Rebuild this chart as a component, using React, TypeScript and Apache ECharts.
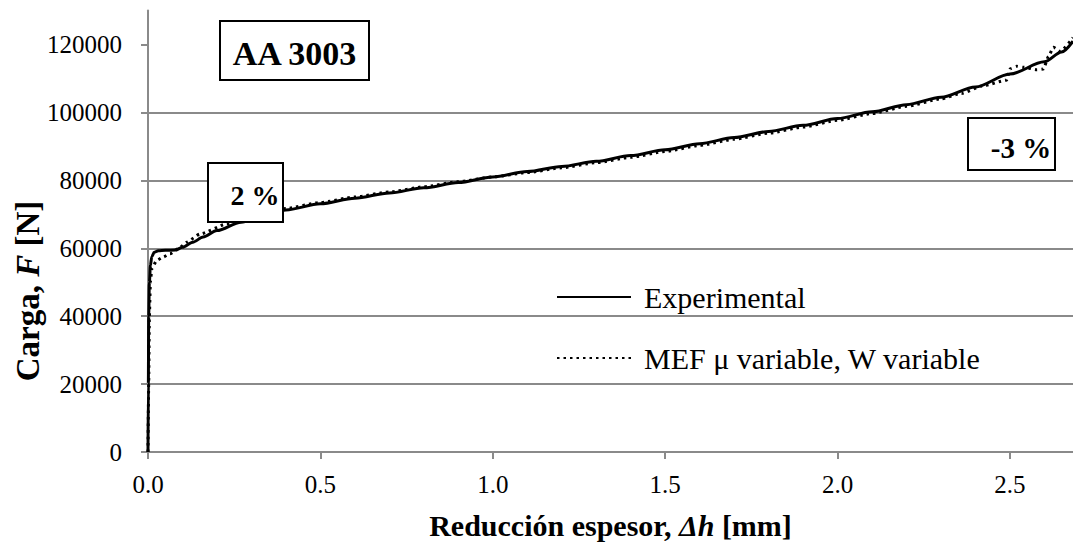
import React, { useEffect, useRef } from "react";
import * as echarts from "echarts";

// Δh [mm] and F [N]
const expX = [0, 0.001, 0.002, 0.004, 0.007, 0.011, 0.018, 0.03, 0.05, 0.08, 0.1, 0.13, 0.16, 0.2, 0.27, 0.33, 0.4, 0.5, 0.6, 0.7, 0.8, 0.9, 1.0, 1.1, 1.2, 1.3, 1.4, 1.5, 1.6, 1.7, 1.8, 1.9, 2.0, 2.1, 2.2, 2.3, 2.4, 2.5, 2.6, 2.65, 2.683];
const expY = [0, 20000, 40000, 50000, 55000, 57500, 58800, 59300, 59400, 59500, 60300, 61800, 63300, 65200, 67700, 69500, 71300, 73100, 74750, 76300, 77800, 79350, 81000, 82600, 84100, 85600, 87300, 89000, 90800, 92600, 94400, 96200, 98200, 100200, 102300, 104500, 107500, 111300, 114900, 117800, 121000];

const mefX = [0, 0.002, 0.004, 0.007, 0.011, 0.025, 0.044, 0.064, 0.093, 0.112, 0.151, 0.228, 0.3, 0.4, 0.5, 0.6, 0.7, 0.8, 0.9, 1.0, 1.1, 1.2, 1.3, 1.4, 1.5, 1.6, 1.7, 1.8, 1.9, 2.0, 2.1, 2.2, 2.3, 2.36, 2.42, 2.49, 2.501, 2.52, 2.54, 2.578, 2.597, 2.612, 2.626, 2.646, 2.683];
const mefY = [0, 20000, 40000, 50000, 54000, 56400, 57400, 58400, 60300, 61800, 64200, 67150, 69300, 71700, 73500, 75100, 76600, 78100, 79600, 81000, 82300, 83700, 85200, 86800, 88500, 90300, 92100, 93900, 95700, 97700, 99700, 101800, 104000, 105600, 107800, 109500, 112900, 113600, 113300, 112600, 112800, 116500, 119200, 118000, 122000];

const xTicks = [0, 0.5, 1.0, 1.5, 2.0, 2.5];
const yTicks = [0, 20000, 40000, 60000, 80000, 100000, 120000];

const seriesNames = ["Experimental", "MEF \u03bc variable, W variable"];
const xTitle = "Reducción espesor, ";
const yTitle = "Carga, ";
const boxLabels = ["AA 3003", "2 %", "-3 %"];

const FONT = "Liberation Serif";
const GRID_COLOR = "#8a8a8a";

const serif = (size: number, bold = false, italic = false) => ({
  fontFamily: FONT,
  fontSize: size,
  fontWeight: bold ? "bold" : "normal",
  fontStyle: italic ? "italic" : "normal",
  color: "#000",
  fill: "#000",
});

export default function App() {
  const ref = useRef<HTMLDivElement>(null);
  useEffect(() => {
    if (!ref.current) return;
    const chart = echarts.init(ref.current, undefined, { renderer: "svg" });
    const exp = expX.map((x, i) => [x, expY[i]]);
    const mef = mefX.map((x, i) => [x, mefY[i]]);
    const boxText = (x: number, y: number, label: string, size: number) => ({
      type: "text", z: 101, x, y,
      style: { text: `{a|${label}}`, align: "center", verticalAlign: "middle", rich: { a: serif(size, true) } },
    });
    chart.setOption({
      animation: false,
      backgroundColor: "#ffffff",
      textStyle: { fontFamily: FONT },
      grid: { left: 148, right: 0, top: 10.6, bottom: 91, containLabel: false },
      xAxis: {
        type: "value",
        min: 0,
        max: 2.683,
        interval: 0.5,
        name: `{b|${xTitle}}{i|\u0394h}{b| [mm]}`,
        nameLocation: "middle",
        nameGap: 58,
        nameTextStyle: { rich: { b: serif(30, true), i: serif(30, true, true) } },
        axisLine: { show: true, onZero: false, lineStyle: { color: GRID_COLOR, width: 2 } },
        axisTick: { show: true, length: 7, customValues: xTicks, lineStyle: { color: GRID_COLOR, width: 2 } },
        axisLabel: {
          customValues: xTicks,
          formatter: (v: number) => `{a|${v.toFixed(1)}}`,
          rich: { a: serif(25) },
          margin: 20,
        },
        splitLine: { show: false },
      },
      yAxis: {
        type: "value",
        min: 0,
        max: 130000,
        interval: 20000,
        axisLine: { show: true, lineStyle: { color: GRID_COLOR, width: 2 } },
        axisTick: { show: true, length: 7, customValues: yTicks, lineStyle: { color: GRID_COLOR, width: 2 } },
        axisLabel: {
          customValues: yTicks,
          formatter: (v: number) => `{a|${v}}`,
          rich: { a: serif(25) },
          margin: 26,
        },
        splitLine: { show: true, showMaxLine: false, lineStyle: { color: GRID_COLOR, width: 2 } },
      },
      legend: {
        orient: "vertical",
        left: 556,
        top: 282,
        padding: 0,
        itemWidth: 74,
        itemHeight: 14,
        itemGap: 31,
        itemStyle: { opacity: 0 },
        formatter: (name: string) => `{a|${name}}`,
        textStyle: { lineHeight: 30, padding: [0, 0, 0, 8], rich: { a: { ...serif(30), lineHeight: 30 } } },
        data: seriesNames,
      },
      graphic: [
        {
          type: "text",
          x: 28,
          y: 291,
          rotation: Math.PI / 2,
          style: {
            text: `{b|${yTitle}}{i|F}{b| [N]}`,
            align: "center",
            verticalAlign: "middle",
            rich: { b: serif(33, true), i: serif(33, true, true) },
          },
        },
        {
          type: "rect", z: 100,
          shape: { x: 220, y: 21, width: 149, height: 59 },
          style: { fill: "#fff", stroke: "#000", lineWidth: 2 },
        },
        boxText(294.5, 53, boxLabels[0], 34),
        {
          type: "rect", z: 100,
          shape: { x: 208, y: 163, width: 75, height: 59 },
          style: { fill: "#fff", stroke: "#000", lineWidth: 2 },
        },
        boxText(255, 195, boxLabels[1], 28),
        {
          type: "rect", z: 100,
          shape: { x: 968, y: 118, width: 87, height: 52 },
          style: { fill: "#fff", stroke: "#000", lineWidth: 2 },
        },
        boxText(1021, 148, boxLabels[2], 29),
      ],
      series: [
        {
          name: seriesNames[0],
          type: "line",
          data: exp,
          showSymbol: false,
          symbol: "none",
          smooth: 0.3,
          smoothMonotone: "x",
          lineStyle: { color: "#000", width: 3 },
          itemStyle: { color: "#000" },
          z: 3,
        },
        {
          name: seriesNames[1],
          type: "line",
          data: mef,
          showSymbol: false,
          symbol: "none",
          smooth: 0.2,
          smoothMonotone: "x",
          lineStyle: { color: "#000", width: 3, type: [2.5, 4] },
          itemStyle: { color: "#000" },
          z: 2,
        },
      ],
    });
    return () => chart.dispose();
  }, []);
  return <div ref={ref} style={{ position: "fixed", left: 0, top: 0, width: 1073, height: 545 }} />;
}
